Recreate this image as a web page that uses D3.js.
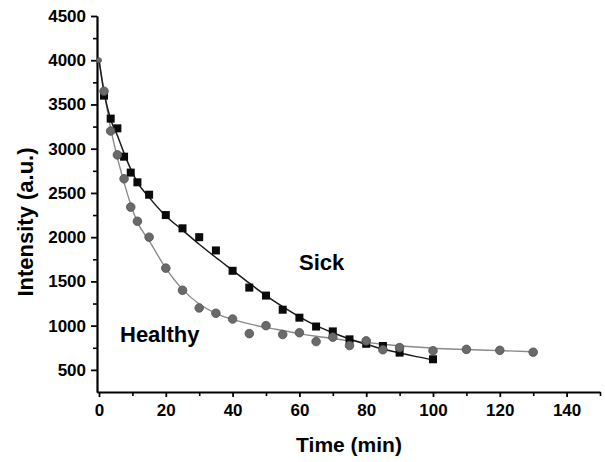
<!DOCTYPE html>
<html>
<head>
<meta charset="utf-8">
<script src="https://cdn.jsdelivr.net/npm/d3@7"></script>
<style>
  body { margin: 0; background: #fff; }
  svg { display: block; font-family: 'Liberation Sans', Arial, sans-serif; font-weight: bold; }
  .axis path, .axis line { stroke: #000; }
  .axis text { font-size: 17px; font-weight: bold; fill: #000; font-family: 'Liberation Sans', Arial, sans-serif; }
</style>
</head>
<body>
<div id="container"></div>
<script>
// measured points (min, a.u.)
const sickTime = [1.5, 3.5, 5.5, 7.5, 9.5, 11.5, 15, 20, 25, 30, 35, 40, 45, 50, 55, 60, 65, 70, 75, 80, 85, 90, 100];
const sickValue = [3600, 3340, 3230, 2910, 2730, 2620, 2480, 2250, 2100, 2000, 1850, 1620, 1430, 1340, 1180, 1090, 990, 935, 845, 795, 770, 695, 620];

const healthyTime = [0, 1.5, 3.5, 5.5, 7.5, 9.5, 11.5, 15, 20, 25, 30, 35, 40, 45, 50, 55, 60, 65, 70, 75, 80, 85, 90, 100, 110, 120, 130];
const healthyValue = [4000, 3650, 3200, 2930, 2660, 2340, 2180, 2000, 1650, 1400, 1200, 1140, 1075, 910, 1000, 900, 920, 820, 870, 775, 828, 728, 752, 717, 732, 721, 700];

// fitted curves
const sickFitTime = [0, 1.5, 3.5, 5.5, 7.5, 9.5, 11.5, 15, 20, 25, 30, 35, 40, 45, 50, 55, 60, 65, 70, 75, 80, 85, 90, 95, 100];
const sickFitValue = [4000, 3640, 3330, 3150, 2950, 2770, 2620, 2450, 2240, 2080, 1920, 1770, 1625, 1480, 1340, 1215, 1100, 1000, 920, 850, 790, 735, 690, 650, 615];

const healthyFitTime = [0, 1.5, 3.5, 5.5, 7.5, 9.5, 11.5, 15, 20, 25, 30, 35, 40, 45, 50, 55, 60, 65, 70, 75, 80, 85, 90, 95, 100, 110, 120, 130];
const healthyFitValue = [4000, 3650, 3230, 2900, 2620, 2370, 2170, 1960, 1650, 1410, 1245, 1140, 1070, 1020, 980, 945, 910, 880, 855, 830, 810, 790, 772, 758, 745, 730, 718, 705];

const yMajor = [500, 1000, 1500, 2000, 2500, 3000, 3500, 4000, 4500];
const yMinor = [750, 1250, 1750, 2250, 2750, 3250, 3750, 4250];
const xMajor = [0, 20, 40, 60, 80, 100, 120, 140];
const xMinor = [10, 30, 50, 70, 90, 110, 130, 150];

const width = 605, height = 462;

const svg = d3.select('#container').append('svg')
  .attr('width', width)
  .attr('height', height);

const x = d3.scaleLinear().domain([-0.6, 150]).range([97, 600]);
const y = d3.scaleLinear().domain([250, 4500]).range([392, 16]);

const zip = (ts, vs) => ts.map((t, i) => ({ t: t, v: vs[i] }));

// axes
svg.append('g')
  .attr('class', 'axis')
  .attr('transform', 'translate(97,0)')
  .call(d3.axisLeft(y).tickValues(yMinor).tickSize(4).tickSizeOuter(0).tickFormat(''))
  .call(g => g.selectAll('line').attr('stroke-width', 1.6));

svg.append('g')
  .attr('class', 'axis')
  .attr('transform', 'translate(97,0)')
  .call(d3.axisLeft(y).tickValues(yMajor).tickSize(6).tickSizeOuter(0).tickPadding(5).tickFormat(d3.format('d')))
  .call(g => g.select('.domain').attr('stroke-width', 2.2))
  .call(g => g.selectAll('line').attr('stroke-width', 1.8));

svg.append('g')
  .attr('class', 'axis')
  .attr('transform', 'translate(0,392)')
  .call(d3.axisBottom(x).tickValues(xMinor).tickSize(4).tickSizeOuter(0).tickFormat(''))
  .call(g => g.selectAll('line').attr('stroke-width', 1.6));

svg.append('g')
  .attr('class', 'axis')
  .attr('transform', 'translate(0,392)')
  .call(d3.axisBottom(x).tickValues(xMajor).tickSize(5).tickSizeOuter(0).tickPadding(7).tickFormat(d3.format('d')))
  .call(g => g.select('.domain').attr('stroke-width', 2.2))
  .call(g => g.selectAll('line').attr('stroke-width', 1.8));

// fitted lines
const line = d3.line()
  .x(d => x(d.t))
  .y(d => y(d.v))
  .curve(d3.curveMonotoneX);

svg.append('path')
  .datum(zip(healthyFitTime, healthyFitValue))
  .attr('d', line)
  .attr('fill', 'none')
  .attr('stroke', '#8a8a8a')
  .attr('stroke-width', 1.4);

svg.append('path')
  .datum(zip(sickFitTime, sickFitValue))
  .attr('d', line)
  .attr('fill', 'none')
  .attr('stroke', '#1a1a1a')
  .attr('stroke-width', 1.5);

// markers
svg.append('g')
  .selectAll('rect')
  .data(zip(sickTime, sickValue)).enter()
  .append('rect')
  .attr('x', d => x(d.t) - 4)
  .attr('y', d => y(d.v) - 4)
  .attr('width', 8)
  .attr('height', 8)
  .attr('fill', '#0a0a0a');

svg.append('g')
  .selectAll('circle')
  .data(zip(healthyTime, healthyValue)).enter()
  .append('circle')
  .attr('cx', d => x(d.t))
  .attr('cy', d => y(d.v))
  .attr('r', (d, i) => i === 0 ? 2.5 : 4.3)
  .attr('fill', '#6a6a6a')
  .attr('stroke', '#505050')
  .attr('stroke-width', 0.8);

// labels
svg.append('text')
  .attr('x', 349)
  .attr('y', 452)
  .attr('text-anchor', 'middle')
  .style('font-size', '21px')
  .text('Time (min)');

svg.append('text')
  .attr('transform', 'translate(33,222) rotate(-90)')
  .attr('text-anchor', 'middle')
  .style('font-size', '22px')
  .text('Intensity (a.u.)');

svg.append('text')
  .attr('x', 299)
  .attr('y', 270)
  .style('font-size', '22px')
  .text('Sick');

svg.append('text')
  .attr('x', 120)
  .attr('y', 342)
  .style('font-size', '22px')
  .text('Healthy');
</script>
</body>
</html>
